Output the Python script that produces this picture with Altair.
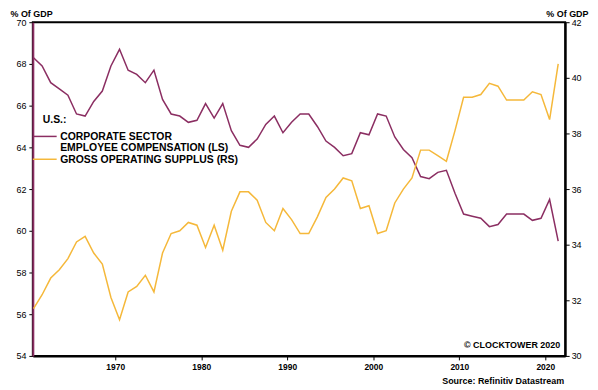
import altair as alt
import pandas as pd

years = list(range(1960, 2022))
comp = [68.3, 67.9, 67.1, 66.8, 66.5, 65.6, 65.5, 66.2, 66.7, 67.9,
        68.7, 67.7, 67.5, 67.1, 67.7, 66.3, 65.6, 65.5, 65.2, 65.3,
        66.1, 65.4, 66.1, 64.8, 64.1, 64.0, 64.4, 65.1, 65.5, 64.7,
        65.2, 65.6, 65.6, 65.0, 64.3, 64.0, 63.6, 63.7, 64.7, 64.6,
        65.6, 65.5, 64.5, 63.9, 63.5, 62.6, 62.5, 62.8, 62.9, 61.8,
        60.8, 60.7, 60.6, 60.2, 60.3, 60.8, 60.8, 60.8, 60.5, 60.6,
        61.5, 59.5]
surplus = [31.7, 32.2, 32.8, 33.1, 33.5, 34.1, 34.3, 33.7, 33.3, 32.1,
           31.3, 32.3, 32.5, 32.9, 32.3, 33.7, 34.4, 34.5, 34.8, 34.7,
           33.9, 34.7, 33.8, 35.2, 35.9, 35.9, 35.6, 34.8, 34.5, 35.3,
           34.9, 34.4, 34.4, 35.0, 35.7, 36.0, 36.4, 36.3, 35.3, 35.4,
           34.4, 34.5, 35.5, 36.0, 36.4, 37.4, 37.4, 37.2, 37.0, 38.1,
           39.3, 39.3, 39.4, 39.8, 39.7, 39.2, 39.2, 39.2, 39.5, 39.4,
           38.5, 40.5]
left_ticks = [54, 56, 58, 60, 62, 64, 66, 68, 70]
right_ticks = [30, 32, 34, 36, 38, 40, 42]
x_ticks = [1970, 1980, 1990, 2000, 2010, 2020]

df = pd.DataFrame({"year": years, "comp": comp, "surplus": surplus})
df["t"] = df["year"] + 0.5  # annual values plotted at mid-year

PURPLE = "#8B2E62"
GOLD = "#F5B83A"
FONT = "Liberation Sans"
W, H = 536, 336

xenc = alt.X(
    "t:Q",
    scale=alt.Scale(domain=[1960.42, 2022.31], nice=False, zero=False),
    axis=alt.Axis(values=x_ticks, format="d", title=None, grid=False,
                  domainColor="black", domainWidth=2, tickColor="black",
                  tickSize=4, tickWidth=1, labelFont=FONT, labelFontSize=8.5,
                  labelFontWeight="bold", labelPadding=3, labelColor="black"),
)

comp_line = alt.Chart(df).mark_line(color=PURPLE, strokeWidth=1.5).encode(
    x=xenc,
    y=alt.Y("comp:Q",
            scale=alt.Scale(domain=[54, 70], nice=False, zero=False),
            axis=alt.Axis(orient="left", values=left_ticks, grid=False,
                          domainColor=PURPLE, domainWidth=2,
                          tickColor="black", tickSize=4, labelPadding=3,
                          labelFont=FONT, labelFontSize=9, labelColor="black",
                          title="% Of GDP", titleAngle=0, titleX=-23, titleY=-8.5,
                          titleAlign="left", titleBaseline="middle",
                          titleFont=FONT, titleFontSize=9, titleFontWeight="bold",
                          titleColor="black")),
)

surplus_line = alt.Chart(df).mark_line(color=GOLD, strokeWidth=1.5).encode(
    x=xenc,
    y=alt.Y("surplus:Q",
            scale=alt.Scale(domain=[30, 42], nice=False, zero=False),
            axis=alt.Axis(orient="right", values=right_ticks, grid=False,
                          domainColor="black", domainWidth=2,
                          tickColor="black", tickSize=4, labelPadding=2,
                          labelFont=FONT, labelFontSize=9, labelColor="black",
                          title="% Of GDP", titleAngle=0, titleX=23, titleY=-8.5,
                          titleAlign="right", titleBaseline="middle",
                          titleFont=FONT, titleFontSize=9, titleFontWeight="bold",
                          titleColor="black")),
)

one = pd.DataFrame({"k": [0]})


def label(txt, x, y, size=10.5, align="left"):
    return alt.Chart(one).mark_text(
        text=txt, align=align, baseline="middle", font=FONT, fontSize=size,
        fontWeight="bold", color="black"
    ).encode(x=alt.value(x), y=alt.value(y))


def swatch(color, y):
    return alt.Chart(one).mark_rule(color=color, strokeWidth=1.5).encode(
        x=alt.value(0), x2=alt.value(24), y=alt.value(y)
    )


annotations = [
    label("U.S.:", 10, 98.5),
    swatch(PURPLE, 115),
    label("CORPORATE SECTOR", 27.5, 115.5),
    label("EMPLOYEE COMPENSATION (LS)", 27.5, 127),
    swatch(GOLD, 138),
    label("GROSS OPERATING SUPPLUS (RS)", 27.5, 138.3),
    label("\u00a9 CLOCKTOWER 2020", 531, 325.5, size=9, align="right"),
    label("Source: Refinitiv Datastream", 535, 361.5, size=9, align="right"),
]

chart = alt.layer(comp_line, surplus_line, *annotations).resolve_scale(
    y="independent"
).properties(
    width=W, height=H,
    autosize=alt.AutoSizeParams(type="none"),
    padding={"left": 25, "top": 13, "right": 25, "bottom": 31},
).configure_view(stroke="black", strokeWidth=2).configure_axis(grid=False)

chart.save("out.html", embed_options={"renderer": "svg", "actions": False})
